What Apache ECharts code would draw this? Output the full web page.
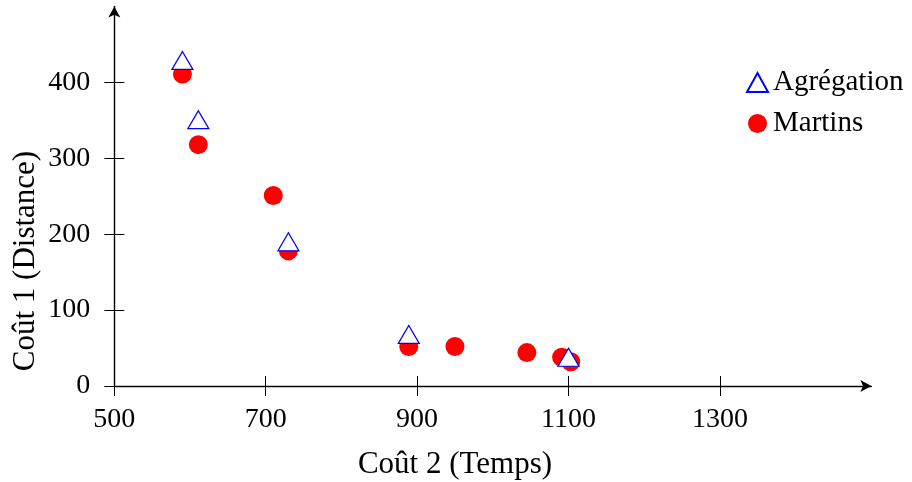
<!DOCTYPE html>
<html>
<head>
<meta charset="utf-8">
<script src="https://cdn.jsdelivr.net/npm/echarts@6/dist/echarts.min.js"></script>
<style>html,body{margin:0;padding:0;background:#fff}#c{width:912px;height:482px}</style>
</head>
<body>
<div id="c"></div>
<script>
// Data
const xAgregation = [590, 611, 730, 889, 1100];
const yAgregation = [425, 347, 186, 64, 34];
const xMartins = [590, 611, 710, 730, 889, 950, 1045, 1091, 1103];
const yMartins = [411, 318, 251, 178, 52, 52, 44, 38, 32];
const xTicks = [500, 700, 900, 1100, 1300];
const yTicks = [0, 100, 200, 300, 400];
const seriesNames = ['Agrégation', 'Martins'];
const xTitle = 'Coût 2 (Temps)';
const yTitle = 'Coût 1 (Distance)';

const FONT = 'Liberation Serif';
const chart = echarts.init(document.getElementById('c'), null, {renderer: 'canvas'});

const agrData = xAgregation.map((x, i) => [x, yAgregation[i]]);
const marData = xMartins.map((x, i) => [x, yMartins[i]]);

const axisLineStyle = {color: '#000', width: 1.4};
const tickStyle = {color: '#000', width: 1};
const fmt = v => String(v);
const gridBox = {left: 114.3, right: 40.7, top: 6.5, bottom: 96, containLabel: false};

chart.setOption({
  animation: false,
  backgroundColor: '#fff',
  grid: [Object.assign({}, gridBox), Object.assign({}, gridBox)],
  legend: {
    orient: 'vertical', left: 741, top: 63,
    data: seriesNames,
    itemWidth: 21, itemHeight: 19, itemGap: 12,
    textStyle: {fontFamily: FONT, fontSize: 29, color: '#000'},
    selectedMode: false
  },
  xAxis: [
    {
      type: 'value', min: 500, max: 1500, gridIndex: 0, position: 'bottom',
      splitLine: {show: false},
      axisLine: {show: true, onZero: false, lineStyle: axisLineStyle, symbol: ['none', 'arrow'], symbolSize: [9, 11]},
      axisTick: {show: false},
      axisLabel: {show: true, customValues: xTicks, formatter: fmt, margin: 20, fontFamily: FONT, fontSize: 28, color: '#000'}
    },
    {
      type: 'value', min: 500, max: 1500, gridIndex: 1, position: 'bottom', offset: -10,
      splitLine: {show: false},
      axisLine: {show: false, onZero: false},
      axisTick: {show: true, inside: false, length: 20, customValues: xTicks, lineStyle: tickStyle},
      axisLabel: {show: false, customValues: xTicks}
    }
  ],
  yAxis: [
    {
      type: 'value', min: 0, max: 500, gridIndex: 0, position: 'left',
      splitLine: {show: false},
      axisLine: {show: true, onZero: false, lineStyle: axisLineStyle, symbol: ['none', 'arrow'], symbolSize: [9, 11]},
      axisTick: {show: false},
      axisLabel: {show: true, customValues: yTicks, formatter: fmt, margin: 24, fontFamily: FONT, fontSize: 28, color: '#000'}
    },
    {
      type: 'value', min: 0, max: 500, gridIndex: 1, position: 'left', offset: -10,
      splitLine: {show: false},
      axisLine: {show: false, onZero: false},
      axisTick: {show: true, inside: false, length: 20, customValues: yTicks, lineStyle: tickStyle},
      axisLabel: {show: false, customValues: yTicks}
    }
  ],
  series: [
    {
      name: seriesNames[1], type: 'scatter', data: marData,
      xAxisIndex: 0, yAxisIndex: 0,
      symbol: 'circle', symbolSize: 19,
      itemStyle: {color: '#ff0000', opacity: 1}
    },
    {
      name: seriesNames[0], type: 'scatter', data: agrData,
      xAxisIndex: 0, yAxisIndex: 0,
      symbol: 'triangle', symbolSize: [21, 18], symbolOffset: [0, -3],
      itemStyle: {color: '#ffffff', borderColor: '#0000ff', borderWidth: 1.2, opacity: 1}
    },
    {
      type: 'scatter', data: [], xAxisIndex: 1, yAxisIndex: 1, silent: true
    }
  ],
  graphic: [
    {type: 'text', x: 455, y: 465, style: {text: xTitle, font: '31px "' + FONT + '"', fill: '#000', align: 'center', verticalAlign: 'middle'}},
    {type: 'text', x: 26, y: 261, rotation: Math.PI / 2, style: {text: yTitle, font: '31px "' + FONT + '"', fill: '#000', align: 'center', verticalAlign: 'middle'}}
  ]
});
</script>
</body>
</html>
